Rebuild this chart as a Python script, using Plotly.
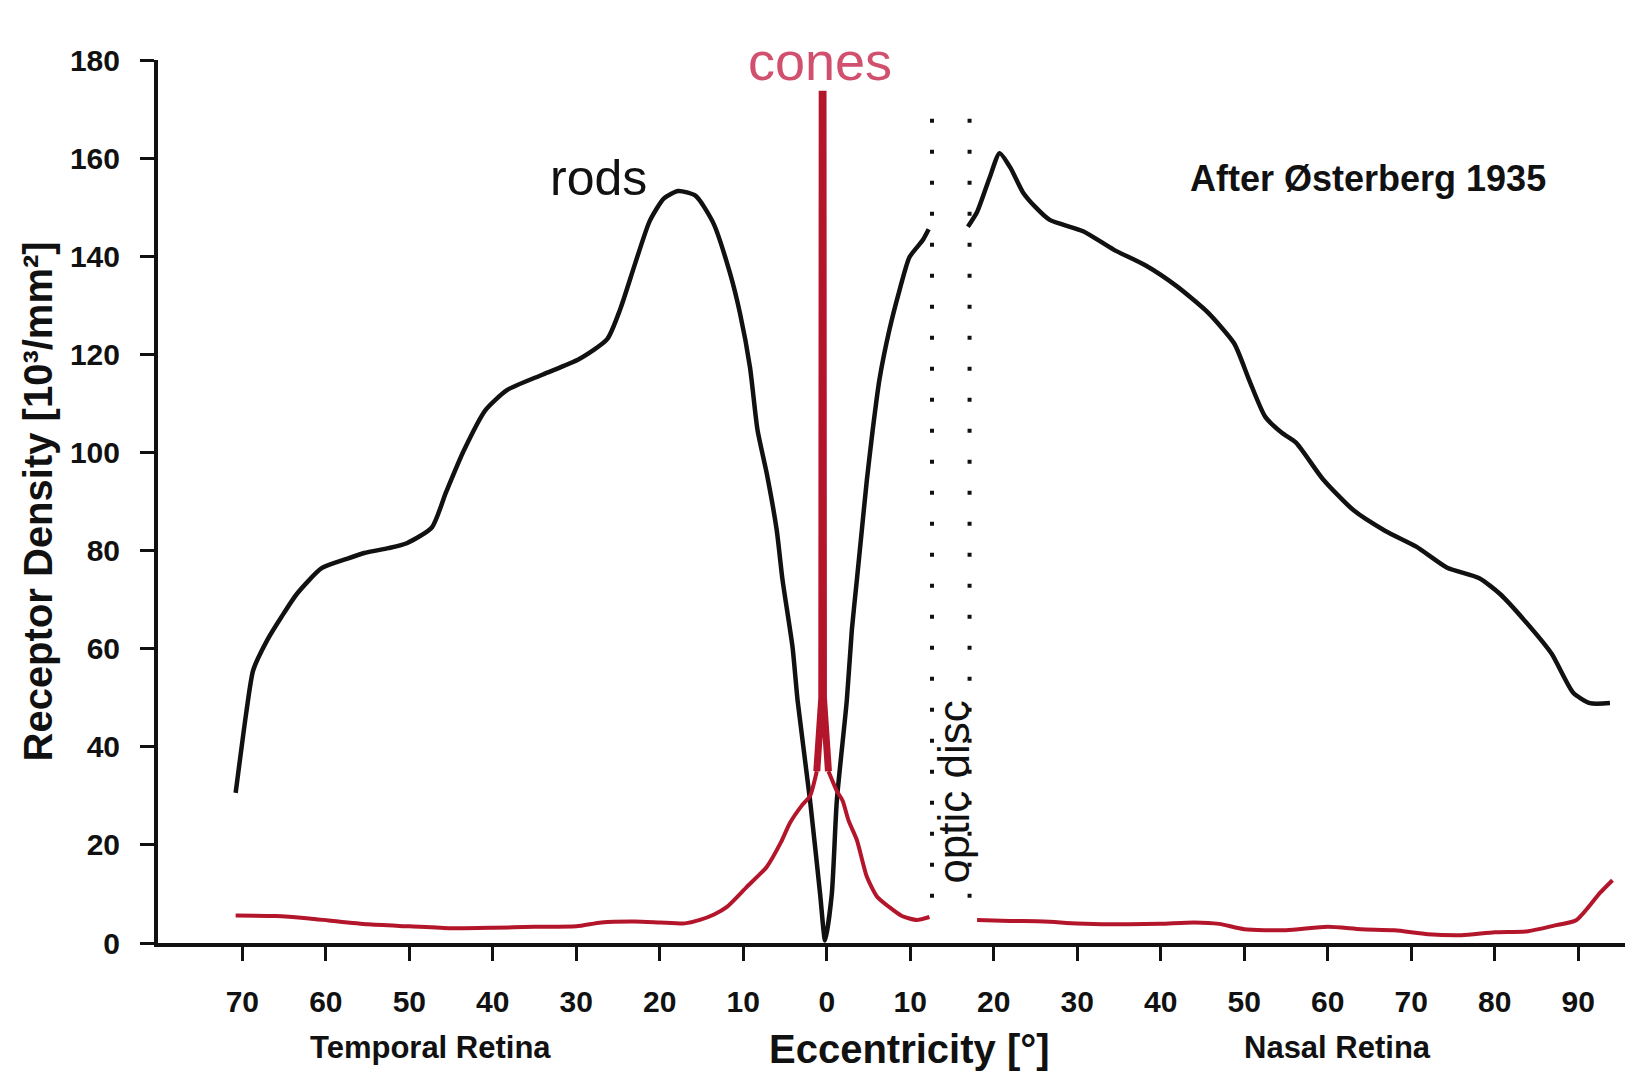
import plotly.graph_objects as go

# ---- data (eccentricity in degrees: temporal negative, nasal positive) ----
rods_a_ecc = [-70.8, -69.5, -68.7, -67.0, -65.3, -63.5, -60.5, -57.5, -55.4, -52.5, -50.3, -47.3,
              -45.6, -43.5, -40.9, -38.3, -34.0, -29.7, -26.3, -24.7, -22.9, -21.2, -19.5, -17.8,
              -15.7, -13.6, -11.6, -10.4, -9.2, -8.3, -7.2, -6.0, -5.3, -4.1, -3.5, -2.0, -0.8,
              -0.2, 0.6, 1.2, 2.4, 3.0, 3.6, 4.2, 4.8, 5.5, 6.3, 7.5, 8.7, 9.9, 11.5, 12.2]
rods_a_den = [30.6, 47.3, 55.6, 61.8, 66.5, 71.1, 76.4, 78.3, 79.5, 80.5, 81.5, 84.7,
              91.9, 100.3, 108.6, 112.7, 115.9, 119.0, 123.1, 129.4, 138.8, 147.2, 151.8, 153.3,
              152.3, 146.8, 136.6, 128.4, 117.4, 104.6, 95.8, 84.2, 74.0, 60.3, 49.5, 29.0, 10.0,
              0.5, 10.0, 29.0, 49.5, 63.8, 74.0, 84.2, 94.4, 104.6, 114.8, 125.0, 133.0, 139.8, 143.3, 145.5]
rods_b_ecc = [16.9, 18.0, 19.5, 20.7, 22.0, 23.5, 25.0, 26.7, 30.7, 34.4, 38.2, 41.9, 45.6, 48.8,
              50.6, 52.5, 54.5, 56.2, 59.4, 63.1, 66.9, 70.6, 74.3, 78.1, 80.6, 83.7, 86.8, 89.4,
              91.4, 93.8]
rods_b_den = [146.0, 149.0, 156.0, 161.0, 158.0, 153.0, 150.0, 147.4, 145.1, 141.3, 138.1, 133.9,
              128.6, 122.2, 114.7, 107.3, 104.0, 102.0, 94.6, 88.2, 84.0, 80.8, 76.5, 74.4, 71.2,
              65.5, 59.0, 51.0, 48.9, 48.9]

cones_a_ecc = [-70.8, -66.0, -62.0, -59.7, -55.0, -50.0, -45.0, -40.0, -35.0, -30.0, -27.0, -23.0,
               -20.0, -17.0, -15.2, -13.5, -12.0, -9.6, -7.2, -5.5, -4.4, -3.0, -2.0, -1.2]
cones_a_den = [5.6, 5.5, 5.0, 4.6, 3.8, 3.4, 3.0, 3.1, 3.3, 3.4, 4.2, 4.4,
               4.2, 4.0, 4.7, 5.8, 7.3, 11.4, 15.5, 20.5, 24.5, 28.0, 30.0, 35.0]
cones_peak_ecc = [-1.2, -0.6, -0.55, -0.45, -0.4, 0.2]
cones_peak_den = [35.0, 50.0, 173.0, 173.0, 50.0, 35.0]
cones_b_ecc = [0.2, 1.2, 1.9, 2.6, 3.6, 4.8, 6.0, 7.5, 9.0, 10.8, 12.3]
cones_b_den = [35.0, 31.0, 29.0, 25.0, 21.0, 13.5, 9.5, 7.3, 5.5, 4.7, 5.3]
cones_c_ecc = [18.0, 22.0, 26.0, 30.0, 36.0, 40.0, 44.0, 47.0, 50.0, 55.0, 60.0, 64.0, 68.0,
               72.0, 76.0, 80.0, 84.0, 87.0, 89.8, 92.6, 94.1]
cones_c_den = [4.7, 4.5, 4.4, 4.0, 3.8, 3.9, 4.2, 3.9, 2.8, 2.6, 3.3, 2.8, 2.6,
               1.8, 1.6, 2.2, 2.4, 3.5, 4.7, 10.2, 12.8]

optic_disc_edges = [12.6, 17.1]
optic_disc_span = [168.0, 4.0]

x_tick_vals = [-70, -60, -50, -40, -30, -20, -10, 0, 10, 20, 30, 40, 50, 60, 70, 80, 90]
x_tick_text = ["70", "60", "50", "40", "30", "20", "10", "0", "10", "20", "30", "40",
               "50", "60", "70", "80", "90"]
y_tick_vals = [0, 20, 40, 60, 80, 100, 120, 140, 160, 180]

FONT = "Liberation Sans, Arial, sans-serif"
ROD_COLOR = "#111111"
CONE_COLOR = "#b3162b"

fig = go.Figure()

# optic disc boundaries (dotted)
for xe in optic_disc_edges:
    fig.add_trace(go.Scatter(x=[xe, xe], y=optic_disc_span, mode="lines",
                             line=dict(color="#111111", width=4, dash="4px,27px"),
                             hoverinfo="skip", showlegend=False))

# rods
for xs, ys in [(rods_a_ecc, rods_a_den), (rods_b_ecc, rods_b_den)]:
    fig.add_trace(go.Scatter(x=xs, y=ys, mode="lines",
                             line=dict(color=ROD_COLOR, width=4.5, shape="spline", smoothing=0.6),
                             showlegend=False))

# cones
for xs, ys, shp, w in [(cones_a_ecc, cones_a_den, "spline", 4), (cones_peak_ecc, cones_peak_den, "linear", 7),
                       (cones_b_ecc, cones_b_den, "spline", 4), (cones_c_ecc, cones_c_den, "spline", 4)]:
    ln = dict(color=CONE_COLOR, width=w, shape=shp)
    if shp == "spline":
        ln["smoothing"] = 0.6
    fig.add_trace(go.Scatter(x=xs, y=ys, mode="lines", line=ln, showlegend=False))

annotations = [
    dict(text="rods", x=-27.4, y=155.9, xref="x", yref="y", showarrow=False,
         font=dict(family=FONT, size=50, color="#111111")),
    dict(text="cones", x=-0.8, y=179.8, xref="x", yref="y", showarrow=False,
         font=dict(family=FONT, size=54, color="#d0506e")),
    dict(text="<b>After Østerberg 1935</b>", x=64.8, y=155.9, xref="x", yref="y", showarrow=False,
         font=dict(family=FONT, size=36, color="#111111")),
    dict(text="optic disc", x=15.2, y=30.8, xref="x", yref="y", showarrow=False, textangle=-90,
         font=dict(family=FONT, size=44, color="#111111")),
    dict(text="<b>Receptor Density [10³/mm²]</b>", x=-0.0822, y=0.5, xref="paper", yref="paper",
         showarrow=False, textangle=-90, xanchor="center", yanchor="middle",
         font=dict(family=FONT, size=40, color="#111111")),
    dict(text="<b>Eccentricity [°]</b>", x=9.9, y=-0.12, xref="x", yref="paper", showarrow=False,
         yanchor="middle", font=dict(family=FONT, size=40, color="#111111")),
    dict(text="<b>Temporal Retina</b>", x=-47.5, y=-0.118, xref="x", yref="paper", showarrow=False,
         yanchor="middle", font=dict(family=FONT, size=31, color="#111111")),
    dict(text="<b>Nasal Retina</b>", x=61.2, y=-0.118, xref="x", yref="paper", showarrow=False,
         yanchor="middle", font=dict(family=FONT, size=31, color="#111111")),
]

fig.update_layout(
    width=1625, height=1073,
    margin=dict(l=150, r=3, t=52, b=138),
    paper_bgcolor="white", plot_bgcolor="white",
    annotations=annotations,
    xaxis=dict(range=[-80.1, 96.2], tickvals=x_tick_vals, ticktext=x_tick_text,
               showgrid=False, zeroline=False, showline=True, linecolor="#111111", linewidth=4,
               ticks="outside", ticklen=14, tickwidth=3, tickcolor="#111111",
               ticklabelstandoff=15,
               tickfont=dict(family=FONT, size=30, color="#111111", weight="bold")),
    yaxis=dict(range=[0, 180], tickvals=y_tick_vals,
               showgrid=False, zeroline=False, showline=True, linecolor="#111111", linewidth=4,
               ticks="outside", ticklen=14, tickwidth=3, tickcolor="#111111",
               ticklabelstandoff=14,
               tickfont=dict(family=FONT, size=30, color="#111111", weight="bold")),
)

fig.write_html("out.html")
